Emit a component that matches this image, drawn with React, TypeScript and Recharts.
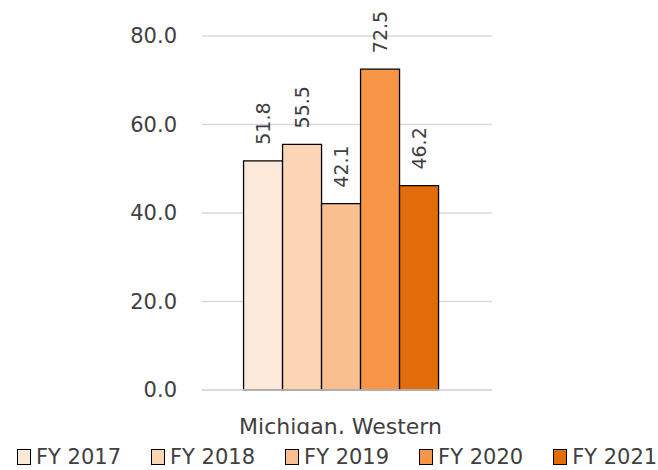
import React from 'react';
import { BarChart, Bar, XAxis, YAxis, CartesianGrid, LabelList } from 'recharts';

const categories = ['Michigan, Western'];
const seriesNames = ['FY 2017', 'FY 2018', 'FY 2019', 'FY 2020', 'FY 2021'];
const seriesKeys = ['fy2017', 'fy2018', 'fy2019', 'fy2020', 'fy2021'];
const fy2017 = [51.8];
const fy2018 = [55.5];
const fy2019 = [42.1];
const fy2020 = [72.5];
const fy2021 = [46.2];
const yTicks = [0, 20, 40, 60, 80];
const colors = ['#FDE9D9', '#FCD5B4', '#FABF8F', '#F79646', '#E26B0A'];

const seriesValues = [fy2017, fy2018, fy2019, fy2020, fy2021];
const data = categories.map((c, i) => {
  const row: Record<string, any> = { name: c };
  seriesKeys.forEach((k, j) => {
    row[k] = seriesValues[j][i];
  });
  return row;
});

const FONT = '"DejaVu Sans", sans-serif';

const renderLabel = (props: any) => {
  const { x, y, width, value } = props;
  const cx = x + width / 2;
  const ty = y - 16;
  return (
    <text
      x={cx}
      y={ty}
      transform={`rotate(-90, ${cx}, ${ty})`}
      textAnchor="start"
      dy="0.35em"
      fill="#404040"
      fontSize={19}
      fontFamily={FONT}
    >
      {Number(value).toFixed(1)}
    </text>
  );
};

export default function App() {
  return (
    <div style={{ position: 'absolute', left: 0, top: 0, width: 658, height: 470, background: '#fff' }}>
      <BarChart
        width={658}
        height={470}
        data={data}
        margin={{ top: 36, right: 166, bottom: 50, left: 0 }}
        barCategoryGap="15%"
        barGap={0}
      >
        <CartesianGrid horizontal vertical={false} stroke="#d9d9d9" strokeWidth={1.3} />
        <XAxis
          dataKey="name"
          height={30}
          padding={{ left: 0, right: 13 }}
          axisLine={{ stroke: '#d9d9d9', strokeWidth: 1.3 }}
          tickLine={false}
          tickMargin={22}
          tick={{ fill: '#404040', fontSize: 22, fontFamily: FONT }}
        />
        <YAxis
          width={202}
          domain={[0, 80]}
          ticks={yTicks}
          interval={0}
          axisLine={false}
          tickLine={false}
          tickMargin={19}
          tickFormatter={(v: number) => v.toFixed(1)}
          tick={{ fill: '#404040', fontSize: 21, fontFamily: FONT }}
        />
        {seriesKeys.map((k, i) => (
          <Bar
            key={k}
            dataKey={k}
            name={seriesNames[i]}
            fill={colors[i]}
            stroke="#000"
            strokeWidth={1.3}
            isAnimationActive={false}
          >
            <LabelList dataKey={k} content={renderLabel} />
          </Bar>
        ))}
      </BarChart>
      <div
        style={{
          position: 'absolute',
          left: 0,
          top: 434,
          width: 658,
          height: 36,
          background: '#fff',
          display: 'flex',
          alignItems: 'center',
          paddingLeft: 17,
          boxSizing: 'border-box',
          gap: 30,
          fontFamily: FONT,
          fontSize: 21,
          color: '#404040',
          whiteSpace: 'nowrap',
        }}
      >
        {seriesNames.map((n, i) => (
          <div key={n} style={{ display: 'flex', alignItems: 'center', marginTop: 9 }}>
            <span
              style={{
                display: 'inline-block',
                width: 14,
                height: 16,
                background: colors[i],
                border: '1.3px solid #000',
                marginRight: 5,
                boxSizing: 'border-box',
              }}
            />
            <span>{n}</span>
          </div>
        ))}
      </div>
    </div>
  );
}
